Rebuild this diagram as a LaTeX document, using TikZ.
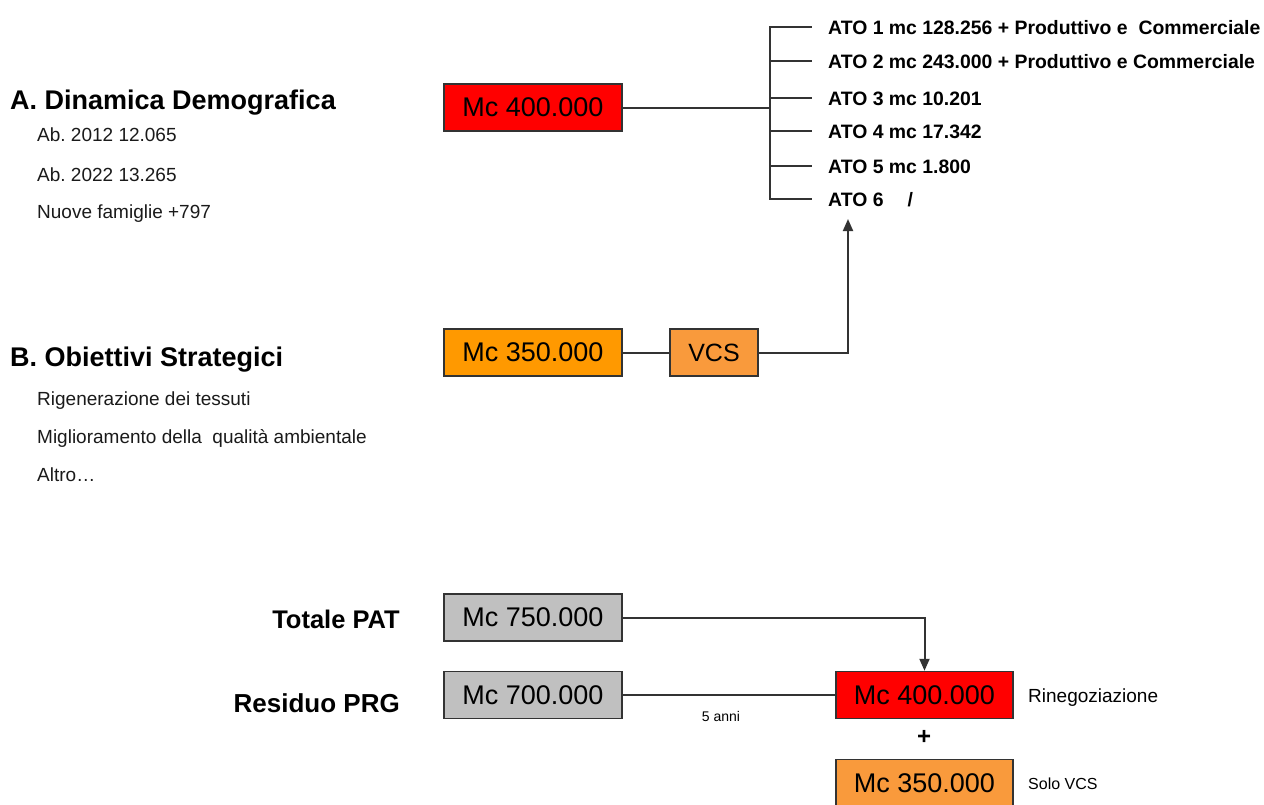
\documentclass[tikz,border=0pt]{standalone}
\usepackage{fontspec}
\setmainfont{Liberation Sans}
\usetikzlibrary{arrows.meta}
\definecolor{boxred}{HTML}{FF0000}
\definecolor{boxorange}{HTML}{FF9900}
\definecolor{boxorangeb}{HTML}{F99A3C}
\definecolor{boxgray}{HTML}{C0C0C0}
\definecolor{linegray}{HTML}{333333}
\definecolor{subtext}{HTML}{1A1A1A}
\frenchspacing
\begin{document}
\begin{tikzpicture}[x=1pt,y=-1pt,
  box/.style={draw=linegray, line width=1.5pt, minimum height=47pt, inner sep=0pt,
    font=\fontsize{27}{32}\selectfont},
  wbox/.style={box, minimum width=178pt},
  conn/.style={draw=linegray, line width=2pt},
  arr/.style={conn, -{Triangle[length=12pt,width=10pt]}},
  title/.style={anchor=base west, inner sep=0pt, font=\fontsize{27}{31}\selectfont\bfseries},
  item/.style={anchor=base west, inner sep=0pt, text=subtext, font=\fontsize{19}{22}\selectfont},
  ato/.style={anchor=base west, inner sep=0pt, font=\fontsize{19.4}{22}\selectfont\bfseries},
  side/.style={anchor=base east, inner sep=0pt, font=\fontsize{26}{30}\selectfont\bfseries},
  note/.style={anchor=base west, inner sep=0pt, font=\fontsize{19}{22}\selectfont}]
\useasboundingbox (0,0) rectangle (1264,804);

% left column
\node[title] (ta) at (10,109) {A. Dinamica Demografica};
\node[item] (a1) at (37,141) {Ab. 2012 12.065};
\node[item] (a2) at (37,181) {Ab. 2022 13.265};
\node[item] (a3) at (37,218) {Nuove famiglie +797};
\node[title] (tb) at (10,366) {B. Obiettivi Strategici};
\node[item] (b1) at (37,405) {Rigenerazione dei tessuti};
\node[item] (b2) at (37,443) {Miglioramento della\ \ qualità ambientale};
\node[item] (b3) at (37,481) {Altro…};

% top boxes
\node[wbox, fill=boxred] (r1) at (533,107.5) {Mc 400.000};
\node[wbox, fill=boxorange] (o1) at (533,352.5) {Mc 350.000};
\node[box, fill=boxorangeb, minimum width=88pt, font=\fontsize{25}{30}\selectfont] (vcs) at (714,352.5) {VCS};

% ATO list
\node[ato] (ato1) at (828,34) {ATO 1 mc 128.256 + Produttivo e\ \ Commerciale};
\node[ato] (ato2) at (828,68) {ATO 2 mc 243.000 + Produttivo e Commerciale};
\node[ato] (ato3) at (828,105) {ATO 3 mc 10.201};
\node[ato] (ato4) at (828,138) {ATO 4 mc 17.342};
\node[ato] (ato5) at (828,173) {ATO 5 mc 1.800};
\node[ato] (ato6) at (828,206) {ATO 6\hspace{24pt}/};

% bracket
\coordinate (bt) at (770,27);
\coordinate (bm) at (770,107.5);
\coordinate (bb) at (770,199);
\draw[conn] (r1.east) -- (bm);
\draw[conn, line cap=rect] (bt) -- (bb);
\foreach \y in {27,61,98,131,166,199}{
  \draw[conn] (770,\y) -- (812,\y);
}

% VCS chain
\coordinate (up) at (848,219);
\draw[conn] (o1.east) -- (vcs.west);
\draw[arr] (vcs.east) -| (up);

% bottom part
\node[side, font=\fontsize{25.5}{30}\selectfont\bfseries] (tp) at (400,628) {Totale PAT};
\node[side] (rp) at (400,712) {Residuo PRG};
\node[wbox, fill=boxgray] (g1) at (533,617.5) {Mc 750.000};
\node[wbox, fill=boxgray] (g2) at (533,695) {Mc 700.000};
\node[box, fill=boxred, minimum width=177pt] (r2) at (924.5,695) {Mc 400.000};
\node[box, fill=boxorangeb, minimum width=177pt] (o2) at (924.5,783) {Mc 350.000};
\node[font=\fontsize{24}{28}\selectfont\bfseries, inner sep=0pt] (plus) at (924,737) {+};
\node[note] (ren) at (1028,702) {Rinegoziazione};
\node[note, font=\fontsize{16}{20}\selectfont] (solo) at (1028,789) {Solo VCS};

\draw[arr] (g1.east) -| (r2.north);
\draw[conn] (g2.east) -- (r2.west);
\node[anchor=base, inner sep=0pt, font=\fontsize{14}{16}\selectfont] (anni) at (721,721) {5 anni};
\end{tikzpicture}
\end{document}
